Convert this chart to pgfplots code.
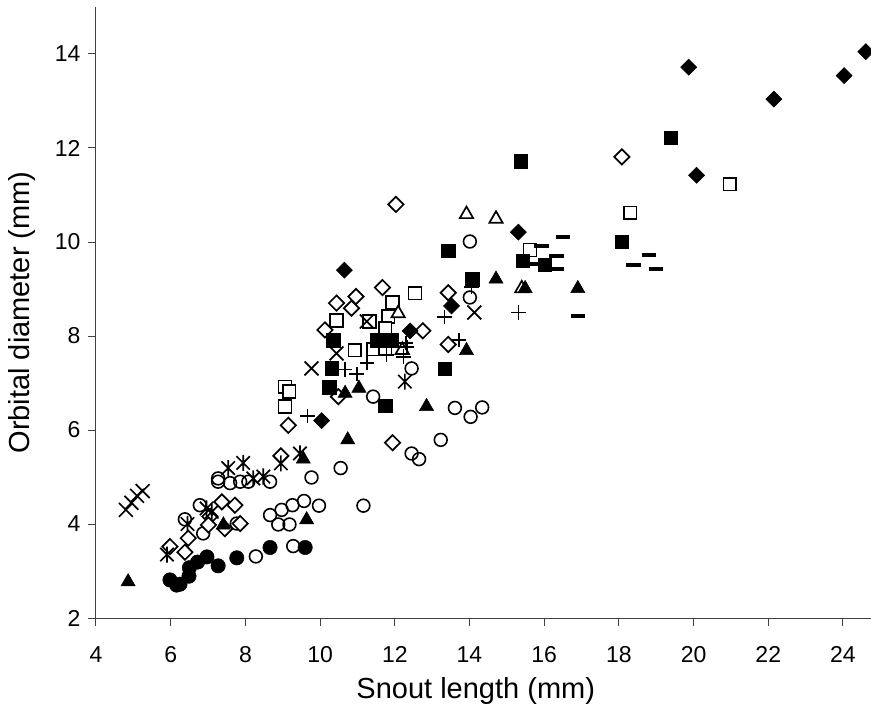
\documentclass[border=0pt]{standalone}
\usepackage{fontspec}
\setmainfont{Liberation Sans}
\usepackage{pgfplots}
\pgfplotsset{compat=1.18}

% x with a vertical bar through it
\pgfdeclareplotmark{xast}{%
  \pgfpathmoveto{\pgfqpoint{-\pgfplotmarksize}{-\pgfplotmarksize}}%
  \pgfpathlineto{\pgfqpoint{\pgfplotmarksize}{\pgfplotmarksize}}%
  \pgfpathmoveto{\pgfqpoint{-\pgfplotmarksize}{\pgfplotmarksize}}%
  \pgfpathlineto{\pgfqpoint{\pgfplotmarksize}{-\pgfplotmarksize}}%
  \pgfpathmoveto{\pgfqpoint{0pt}{-1.2\pgfplotmarksize}}%
  \pgfpathlineto{\pgfqpoint{0pt}{1.2\pgfplotmarksize}}%
  \pgfusepathqstroke}
% short thick bar
\pgfdeclareplotmark{bar}{%
  \pgfpathrectangle{\pgfqpoint{-\pgfplotmarksize}{-0.28\pgfplotmarksize}}{\pgfqpoint{2\pgfplotmarksize}{0.56\pgfplotmarksize}}%
  \pgfusepathqfill}

\pgfplotsset{
  pts/.style={only marks, black, line width=1.7pt},
}

\begin{document}
\begin{tikzpicture}
\useasboundingbox (-96pt,-98pt) rectangle (775pt,618pt);
\begin{axis}[
    scale only axis,
    width=775pt, height=611pt,
    xmin=4, xmax=24.75, ymin=2, ymax=15,
    axis x line*=bottom, axis y line*=left,
    axis line style={black!75, line width=1pt, -},
    xtick={4,6,...,24}, ytick={2,4,...,14},
    tick align=outside, major tick length=8pt,
    tick style={black!75, line width=1pt},
    ticklabel style={font=\fontsize{23}{27}\selectfont},
    xticklabel style={yshift=-17pt},
    yticklabel style={xshift=-4pt},
    /pgf/number format/assume math mode=true,
    xlabel={Snout length (mm)},
    ylabel={Orbital diameter (mm)},
    label style={font=\fontsize{29}{34}\selectfont},
    xlabel style={at={(axis description cs:0.49,-0.12)}, anchor=center},
    ylabel style={at={(axis description cs:-0.0955,0.5)}, anchor=center},
]
% open circles
\addplot[pts, mark=o, mark size=6.4pt, line width=1.6pt] table {
14.01 10.01
14.01 8.82
12.45 7.31
11.42 6.71
13.61 6.47
14.03 6.28
14.34 6.48
13.23 5.79
12.45 5.50
12.65 5.38
10.55 5.19
9.77 4.99
9.57 4.49
9.97 4.39
11.16 4.39
8.66 4.19
8.97 4.30
9.26 4.40
8.88 3.99
9.18 3.99
9.28 3.53
8.28 3.31
7.27 4.97
7.27 4.90
7.59 4.87
7.86 4.90
8.08 4.90
8.66 4.90
6.38 4.10
6.78 4.40
6.87 3.80
7.77 4.01
};
% filled circles
\addplot[pts, mark=*, mark size=7.2pt, line width=0.5pt] table {
5.98 2.81
6.16 2.70
6.25 2.72
6.49 2.89
6.50 3.07
6.72 3.19
6.97 3.30
7.27 3.11
7.77 3.28
8.66 3.50
9.60 3.50
};
% open diamonds
\addplot[pts, mark=square*, mark size=5.4pt, mark options={rotate=45, fill=white}] table {
18.08 11.81
12.03 10.80
11.67 9.03
10.44 8.70
10.96 8.84
10.84 8.59
10.13 8.13
12.75 8.11
13.43 8.92
13.43 7.82
10.49 6.71
9.15 6.10
11.94 5.73
8.95 5.45
5.98 3.52
6.38 3.40
6.47 3.70
7.05 4.16
7.37 4.47
7.72 4.40
7.45 3.90
7.86 4.01
7.01 3.98
};
% open squares
\addplot[pts, mark=square*, mark size=6.4pt, mark options={fill=white}] table {
20.97 11.23
18.30 10.62
15.62 9.83
12.54 8.91
11.94 8.71
11.82 8.42
10.44 8.33
11.32 8.31
11.74 8.16
10.93 7.70
11.42 7.72
11.74 7.74
9.06 6.92
9.17 6.82
9.06 6.50
};
% filled squares
\addplot[pts, mark=square*, mark size=6.7pt, line width=0.5pt] table {
19.39 12.22
15.38 11.72
18.08 10.01
13.43 9.81
14.07 9.21
15.42 9.60
16.02 9.51
10.35 7.91
11.51 7.91
11.74 7.91
11.92 7.91
13.33 7.30
10.31 7.31
10.25 6.91
11.74 6.51
};
% filled diamonds
\addplot[pts, mark=square*, mark size=5.7pt, line width=0.5pt, mark options={rotate=45}] table {
24.61 14.05
24.03 13.54
19.87 13.72
22.15 13.04
20.08 11.42
15.31 10.21
10.65 9.40
13.52 8.64
12.41 8.11
10.04 6.20
};
% open triangles
\addplot[pts, mark=triangle*, mark size=7.7pt, mark options={fill=white}] table {
13.92 10.59
14.71 10.49
15.40 9.01
12.20 7.70
12.09 8.48
};
% filled triangles
\addplot[pts, mark=triangle*, mark size=8.2pt, line width=0.5pt] table {
14.71 9.21
15.49 9.01
16.90 9.01
13.92 7.69
10.67 6.78
11.04 6.89
12.85 6.50
10.74 5.79
9.64 4.09
9.55 5.38
7.41 3.98
4.86 2.77
};
% crosses
\addplot[pts, mark=x, mark size=9.8pt] table {
14.13 8.50
11.25 8.31
10.44 7.63
9.77 7.31
4.80 4.30
4.95 4.45
5.10 4.60
5.25 4.70
};
% plus signs
\addplot[pts, mark=+, mark size=7.2pt] table {
15.31 8.50
13.33 8.41
13.72 7.91
12.32 7.77
12.23 7.56
11.25 7.42
11.78 7.60
10.67 7.29
10.98 7.19
9.66 6.30
14.05 9.05
12.30 7.85
};
% asterisks
\addplot[pts, mark=xast, mark size=6.7pt] table {
12.27 7.03
9.46 5.50
8.95 5.29
7.94 5.30
7.54 5.19
8.21 4.97
8.48 5.01
6.96 4.33
7.10 4.26
6.45 4.00
5.90 3.35
};
% bars
\addplot[pts, mark=bar, mark size=7.2pt] table {
16.51 10.11
15.93 9.91
15.75 9.53
16.33 9.70
16.33 9.42
16.91 8.43
18.80 9.72
18.39 9.52
18.99 9.42
};
\end{axis}
\end{tikzpicture}
\end{document}
